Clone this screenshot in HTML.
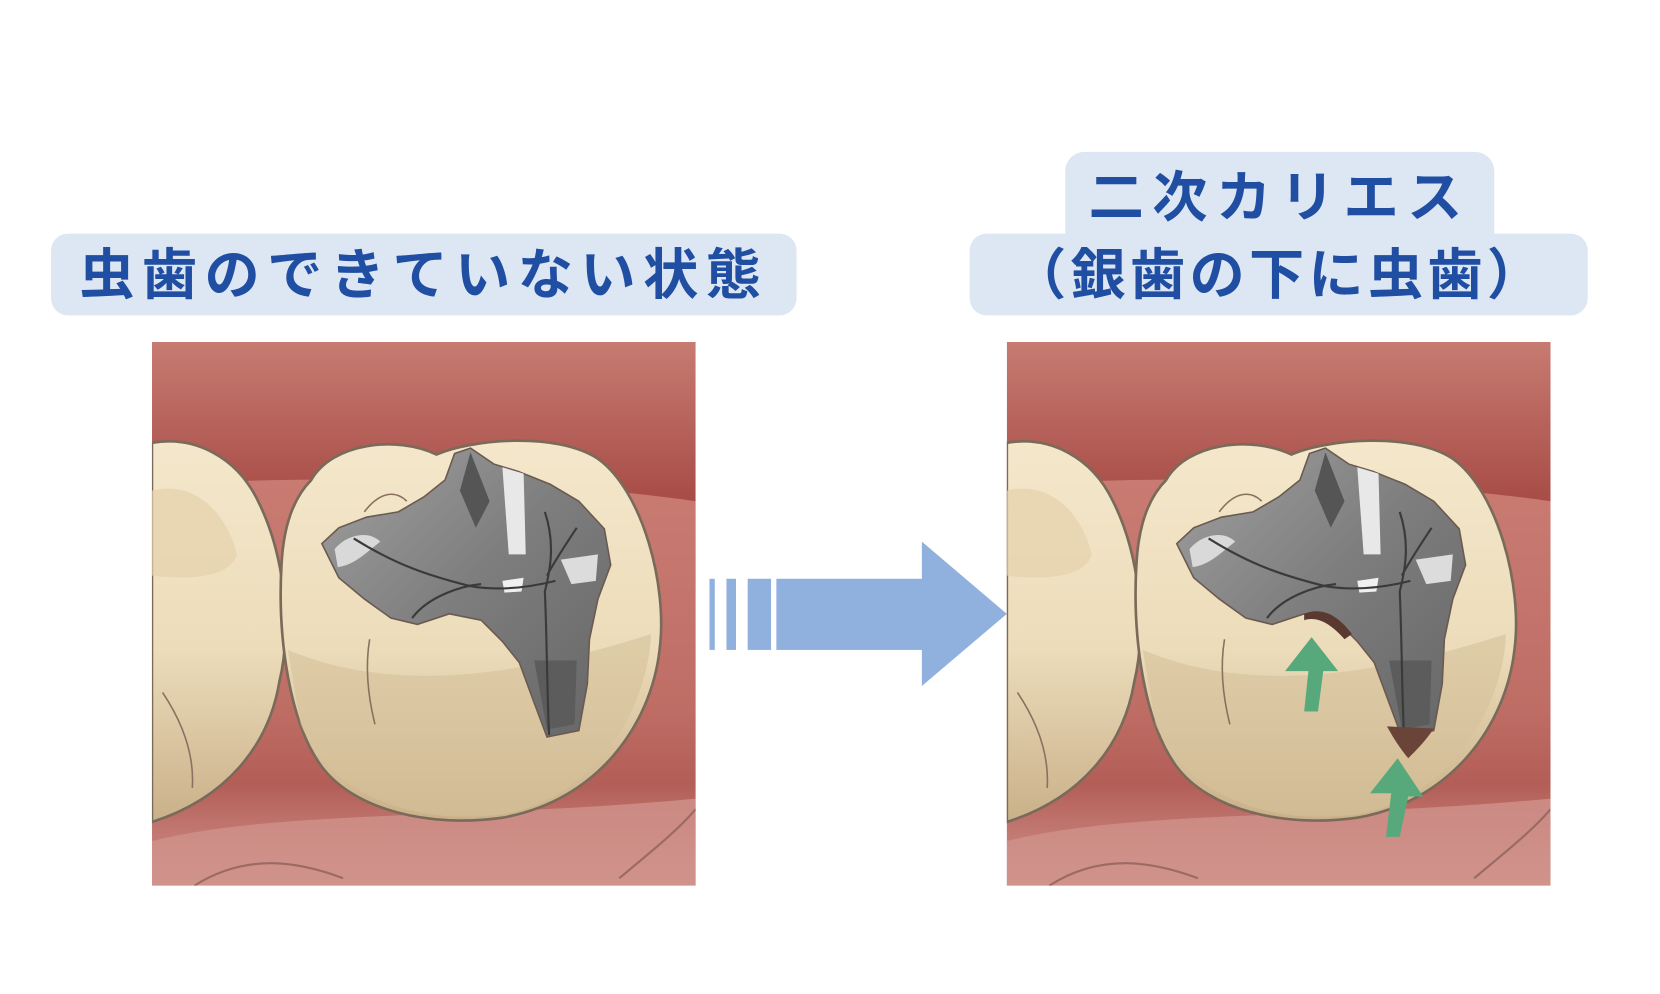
<!DOCTYPE html>
<html><head><meta charset="utf-8"><style>
html,body{margin:0;padding:0;background:#fff;}
svg{display:block;}
</style></head><body>
<svg width="1660" height="994" viewBox="0 0 1563 936" xmlns="http://www.w3.org/2000/svg">
<defs>
<linearGradient id="gumTop" gradientUnits="userSpaceOnUse" x1="0" y1="0" x2="0" y2="150">
<stop offset="0" stop-color="#c77b71"/><stop offset="1" stop-color="#a74c46"/></linearGradient>
<linearGradient id="gumBot" x1="0" y1="0" x2="0" y2="1">
<stop offset="0" stop-color="#c97b72"/><stop offset="0.55" stop-color="#bf6e66"/><stop offset="0.75" stop-color="#b35e57"/><stop offset="1" stop-color="#d0958e"/></linearGradient>
<linearGradient id="tooth" x1="0" y1="0" x2="0" y2="1">
<stop offset="0" stop-color="#f4e7cb"/><stop offset="0.55" stop-color="#ecdcba"/><stop offset="1" stop-color="#c9b089"/></linearGradient>
<linearGradient id="metal" x1="0" y1="0" x2="1" y2="1">
<stop offset="0" stop-color="#a0a0a0"/><stop offset="0.5" stop-color="#7d7d7d"/><stop offset="1" stop-color="#666"/></linearGradient>
<clipPath id="pc"><rect x="0" y="0" width="512" height="512"/></clipPath>
<g id="panel">
<g clip-path="url(#pc)">
<rect width="512" height="512" fill="url(#gumTop)"/>
<path d="M0,135 C150,125 360,128 512,150 L512,512 L0,512 Z" fill="url(#gumBot)"/>
<path d="M0,470 C120,440 300,450 512,430 L512,512 L0,512 Z" fill="#d0928b" opacity="0.8"/>
<path d="M40,512 C90,480 140,490 180,505" stroke="#9a6a64" stroke-width="2" fill="none"/>
<path d="M440,505 C470,480 495,460 512,440" stroke="#9a6a64" stroke-width="2" fill="none"/>
<path d="M0,95 C40,88 80,108 100,150 C125,200 132,270 120,320 C110,380 70,430 0,452 Z" fill="url(#tooth)" stroke="#7a6a5a" stroke-width="2.5"/>
<path d="M0,140 C40,130 70,160 80,200 C75,220 40,225 0,220" fill="#e5d2ac" opacity="0.7"/>
<path d="M10,330 C30,360 40,390 38,420" stroke="#8a7060" stroke-width="1.5" fill="none"/>
<path d="M150,130 C170,95 230,88 268,106 C300,92 380,84 420,110 C462,140 486,230 478,290 C470,360 420,432 330,448 C260,458 190,440 160,400 C130,360 118,280 122,210 C124,170 135,145 150,130 Z" fill="url(#tooth)" stroke="#7a6a5a" stroke-width="2.5"/>
<path d="M128,290 C200,320 300,330 470,275 C468,340 420,430 330,445 C250,455 170,430 140,360 Z" fill="#d6c19b" opacity="0.6"/>
<path d="M200,160 C215,140 230,140 240,150" stroke="#8a7060" stroke-width="1.5" fill="none"/>
<path d="M205,280 C200,310 205,340 210,360" stroke="#8a7060" stroke-width="1.5" fill="none"/>
<path d="M285,105 L300,100 L322,115 L345,122 L375,134 L402,150 L426,176 L432,210 L420,242 L412,280 L410,322 L402,366 L372,372 L360,340 L346,302 L330,282 L310,262 L280,256 L250,266 L225,260 L200,242 L176,222 L160,190 L176,175 L202,165 L232,160 L256,146 L276,130 Z" fill="url(#metal)" stroke="#6a5a50" stroke-width="1.5"/>
<path d="M330,118 L350,124 L352,200 L336,200 Z" fill="#e8e8e8"/>
<path d="M172,195 C185,180 205,178 215,188 C200,200 190,210 175,212 Z" fill="#d9d9d9"/>
<path d="M385,205 L420,200 L418,225 L395,228 Z" fill="#dcdcdc"/>
<path d="M300,104 L318,150 L305,175 L290,140 Z" fill="#555"/>
<path d="M360,300 L400,300 L398,360 L372,365 Z" fill="#5c5c5c"/>
<path d="M330,225 L350,222 L348,235 L332,236 Z" fill="#f0f0f0"/>
<path d="M190,185 C230,210 260,220 300,230 C330,235 360,230 380,225 M245,260 C260,240 290,230 310,228 M370,160 C380,190 375,215 370,235 C372,280 372,330 374,370 M400,175 C390,190 380,205 372,220" stroke="#3a3a3a" stroke-width="2" fill="none"/>
</g>
</g>
</defs>

<rect x="48" y="220" width="702" height="77" rx="16" fill="#dde6f3"/>
<text x="399" y="277" text-anchor="middle" font-family="'Liberation Sans','Noto Sans CJK JP',sans-serif" font-size="52" font-weight="bold" fill="#1f4ea3" letter-spacing="7">虫歯のできていない状態</text>

<rect x="1003" y="143" width="404" height="100" rx="18" fill="#dde6f3"/>
<rect x="913" y="220" width="582" height="77" rx="16" fill="#dde6f3"/>
<text x="1205" y="204" text-anchor="middle" font-family="'Liberation Sans','Noto Sans CJK JP',sans-serif" font-size="52" font-weight="bold" fill="#1f4ea3" letter-spacing="8">二次カリエス</text>
<text x="1204" y="277" text-anchor="middle" font-family="'Liberation Sans','Noto Sans CJK JP',sans-serif" font-size="52" font-weight="bold" fill="#1f4ea3" letter-spacing="4">（銀歯の下に虫歯）</text>

<use href="#panel" x="143" y="322"/>
<use href="#panel" x="948" y="322"/>

<g transform="translate(948,322)">
<path d="M280,256 C295,250 310,255 325,275 L318,280 C305,265 292,258 280,262 Z" fill="#5a3a30"/>
<path d="M358,362 C365,375 372,385 378,392 C385,385 395,375 402,364 Z" fill="#6a4438"/>
<path d="M262,310 L287,278 L312,310 L298,310 L293,348 L280,348 L284,310 Z" fill="#57a97c"/>
<path d="M342,425 L368,392 L392,428 L378,428 L370,466 L357,466 L362,425 Z" fill="#57a97c"/>
</g>

<rect x="668" y="545" width="5" height="67" fill="#90b0dd"/>
<rect x="684" y="545" width="9" height="67" fill="#90b0dd"/>
<rect x="704" y="545" width="22" height="67" fill="#90b0dd"/>
<rect x="731" y="545" width="140" height="67" fill="#90b0dd"/>
<path d="M868,510 L948,578 L868,646 Z" fill="#90b0dd"/>
</svg>
</body></html>
